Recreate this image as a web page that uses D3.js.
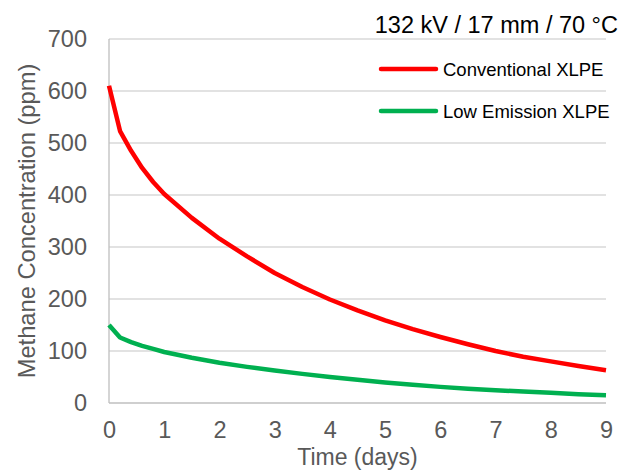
<!DOCTYPE html>
<html>
<head>
<meta charset="utf-8">
<script src="https://cdn.jsdelivr.net/npm/d3@7"></script>
<style>
  html, body { margin: 0; padding: 0; background: #fff; }
  svg { display: block; font-family: "Liberation Sans", Arial, sans-serif; }
</style>
</head>
<body>
<svg id="chart" width="631" height="470"></svg>
<script>
// ---- data ----
const timeDays = [0, 0.2, 0.4, 0.6, 0.8, 1, 1.5, 2, 2.5, 3, 3.5, 4, 4.5, 5, 5.5, 6, 6.5, 7, 7.5, 8, 8.5, 9];
const conventionalXLPE = [610, 523, 485, 452, 425, 402, 356, 316, 282, 250, 223, 199, 178, 159, 142, 127, 113, 100, 89, 80, 71, 63];
const lowEmissionXLPE = [150, 126, 117, 110, 104, 98, 87, 77.5, 69.5, 62.5, 56, 50, 44.5, 39.5, 35, 31, 27.5, 24.5, 22, 19.5, 17, 15];
const seriesNames = ["Conventional XLPE", "Low Emission XLPE"];
const seriesColors = ["#FF0000", "#00B050"];
const xTicks = [0, 1, 2, 3, 4, 5, 6, 7, 8, 9];
const yTicks = [0, 100, 200, 300, 400, 500, 600, 700];
const titleText = "132 kV / 17 mm / 70 °C";
const xTitle = "Time (days)";
const yTitle = "Methane Concentration (ppm)";

const svg = d3.select("#chart");
const x = d3.scaleLinear().domain([0, 9]).range([109, 606]);
const y = d3.scaleLinear().domain([0, 700]).range([403, 39]);

// gridlines
svg.append("g").selectAll("line").data(yTicks.filter(d => d > 0)).join("line")
  .attr("x1", x(0)).attr("x2", x(9))
  .attr("y1", d => y(d)).attr("y2", d => y(d))
  .attr("stroke", "#D9D9D9").attr("stroke-width", 1.3);

// axes lines
svg.append("line").attr("x1", x(0)).attr("x2", x(0)).attr("y1", y(700)).attr("y2", y(0))
  .attr("stroke", "#BFBFBF").attr("stroke-width", 1.3);
svg.append("line").attr("x1", x(0)).attr("x2", x(9)).attr("y1", y(0)).attr("y2", y(0))
  .attr("stroke", "#BFBFBF").attr("stroke-width", 1.3);

// y tick labels
const yAxis = d3.axisLeft(y).tickValues(yTicks).tickSize(0).tickPadding(22);
const gy = svg.append("g").attr("transform", `translate(${x(0)},0)`).call(yAxis);
gy.select(".domain").remove();
gy.selectAll("text").attr("fill", "#595959").style("font-size", "23.5px")
  .style("font-family", "Liberation Sans, Arial, sans-serif");

// x tick labels
const xAxis = d3.axisBottom(x).tickValues(xTicks).tickSize(0).tickPadding(18);
const gx = svg.append("g").attr("transform", `translate(0,${y(0)})`).call(xAxis);
gx.select(".domain").remove();
gx.selectAll("text").attr("fill", "#595959").style("font-size", "23.5px")
  .style("font-family", "Liberation Sans, Arial, sans-serif");

// lines
const line = d3.line().x((d, i) => x(timeDays[i])).y(d => y(d));
[conventionalXLPE, lowEmissionXLPE].forEach((s, k) => {
  svg.append("path").datum(s).attr("d", line)
    .attr("fill", "none").attr("stroke", seriesColors[k]).attr("stroke-width", 4.5)
    .attr("stroke-linejoin", "round");
});

// axis titles
svg.append("text").attr("x", (x(0) + x(9)) / 2).attr("y", 465)
  .attr("text-anchor", "middle").attr("fill", "#595959").style("font-size", "23px").text(xTitle);
svg.append("text").attr("transform", `translate(35,${(y(0) + y(700)) / 2}) rotate(-90)`)
  .attr("text-anchor", "middle").attr("fill", "#595959").style("font-size", "23.7px").text(yTitle);

// title
svg.append("text").attr("x", 618).attr("y", 33).attr("text-anchor", "end")
  .attr("fill", "#000").style("font-size", "23.5px").text(titleText);

// legend
const legendY = [69, 111];
seriesNames.forEach((n, k) => {
  svg.append("line").attr("x1", 381).attr("x2", 436).attr("y1", legendY[k]).attr("y2", legendY[k])
    .attr("stroke", seriesColors[k]).attr("stroke-width", 4.5).attr("stroke-linecap", "round");
  svg.append("text").attr("x", 443).attr("y", legendY[k] + 6.5).attr("fill", "#000")
    .style("font-size", "18.5px").text(n);
});
</script>
</body>
</html>
